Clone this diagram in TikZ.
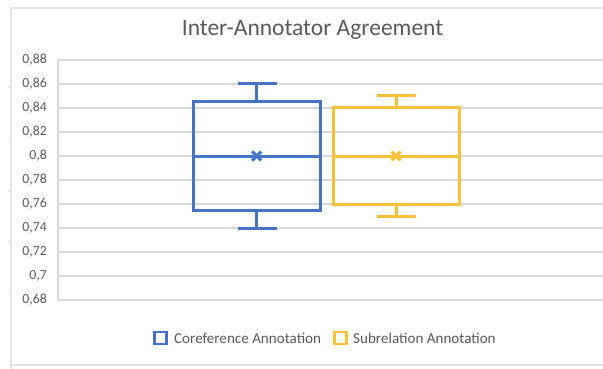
\documentclass[tikz,border=0pt]{standalone}
\usepackage{fontspec}
\setmainfont{Carlito}
\definecolor{cblue}{HTML}{4472C4}
\definecolor{cyel}{HTML}{FAC03A}
\definecolor{grid}{HTML}{D9D9D9}
\definecolor{frame}{HTML}{E3E3E3}
\definecolor{txt}{HTML}{595959}
\begin{document}
\begin{tikzpicture}[x=1pt,y=-1pt,
  gridline/.style={draw=grid,line width=1.3pt},
  boxline/.style={line width=3pt,line cap=rect},
  tick/.style={anchor=east,text=txt,font=\fontsize{13.8}{15}\selectfont,inner sep=0pt},
  legtext/.style={anchor=west,text=txt,font=\fontsize{15.1}{17}\selectfont,inner sep=0pt}]
\useasboundingbox (0,0) rectangle (603,369);
\fill[white] (0,0) rectangle (603,369);
% outer frame
\draw[draw=frame,line width=1.2pt] (11,369) -- (11,8) -- (603,8);
\draw[draw=frame,line width=1.5pt] (11,365) -- (603,365);
\foreach \yy in {88,139,191,241,293} \draw[draw=frame,line width=1pt] (8,\yy) -- (11,\yy);
% title
\node[text=txt,font=\fontsize{23.5}{26}\selectfont,inner sep=0pt] (title) at (312.5,30) {Inter-Annotator Agreement};
% grid and ticks
\foreach \i/\lab in {0/{0,88},1/{0,86},2/{0,84},3/{0,82},4/{0,8},5/{0,78},6/{0,76},7/{0,74},8/{0,72},9/{0,7},10/{0,68}} {
  \draw[gridline] (58,60+24*\i) -- (603,60+24*\i);
  \node[tick] (t\i) at (47,60+24*\i) {\lab};
}
\draw[gridline] (58,60) -- (58,300);
% blue box
\draw[cblue,boxline] (193.5,102) rectangle (320,210);
\draw[cblue,boxline] (193.5,156) -- (320,156);
\draw[cblue,boxline] (256.7,102) -- (256.7,84);
\draw[cblue,boxline] (256.7,210) -- (256.7,228);
\draw[cblue,boxline] (239,84) -- (275,84);
\draw[cblue,boxline] (239,228) -- (275,228);
\draw[cblue,line width=3pt] (252.2,151.5) -- (261.2,160.5) (252.2,160.5) -- (261.2,151.5);
% yellow box
\draw[cyel,boxline] (333,108) rectangle (459,204);
\draw[cyel,boxline] (333,156) -- (459,156);
\draw[cyel,boxline] (396,108) -- (396,96);
\draw[cyel,boxline] (396,204) -- (396,216);
\draw[cyel,boxline] (378,96) -- (414.5,96);
\draw[cyel,boxline] (378,216) -- (414.5,216);
\draw[cyel,line width=3pt] (391.5,151.5) -- (400.5,160.5) (391.5,160.5) -- (400.5,151.5);
% legend
\draw[cblue,line width=2.8pt] (154.5,332) rectangle (166.5,344);
\node[legtext] (l1) at (174,338) {Coreference Annotation};
\draw[cyel,line width=2.8pt] (334.5,332) rectangle (346.5,344);
\node[legtext] (l2) at (353,338) {Subrelation Annotation};
\end{tikzpicture}
\end{document}
